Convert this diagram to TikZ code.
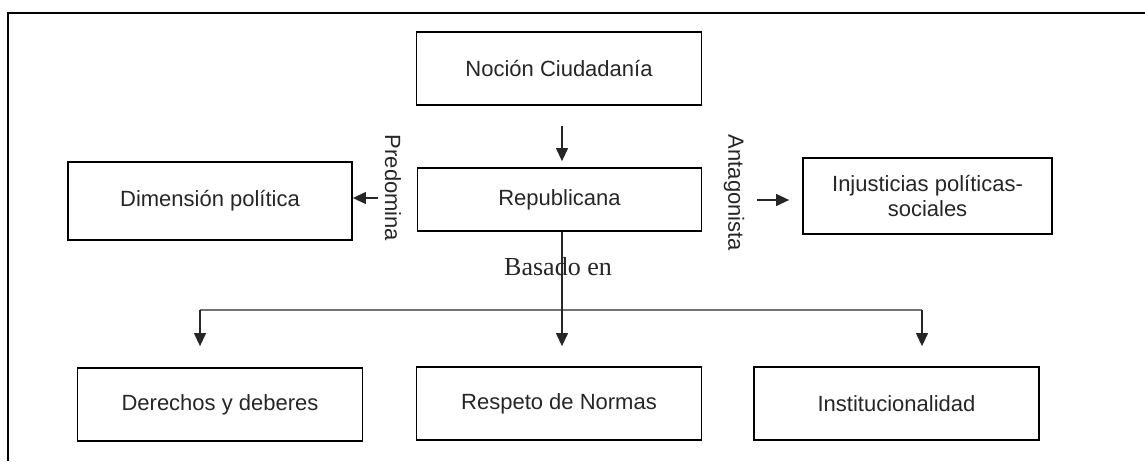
\documentclass[tikz,border=0pt]{standalone}
\usepackage{fontspec}
\setmainfont{Liberation Sans}
\newfontfamily\seriffont{Liberation Serif}
\usetikzlibrary{arrows.meta}
\begin{document}
\begin{tikzpicture}[x=1pt,y=-1pt,
  box/.style={draw=black,line width=1.8pt,inner sep=0pt,align=center,
    font=\fontsize{22}{25}\selectfont,text=black!85},
  conn/.style={line width=1.2pt,draw=black!85},
  arr/.style={conn,-{Triangle[length=13pt,width=12pt]}},
  bus/.style={line width=1.6pt,draw=black!55},
  lbl/.style={inner sep=0pt,font=\fontsize{22}{25}\selectfont,text=black!85}]
\useasboundingbox (0,0) rectangle (1145,461);
% outer frame (partially visible)
\draw[line width=2pt] (8,461) -- (8,13) -- (1145,13);

\node[box,minimum width=285pt,minimum height=73pt] (noc) at (559,68.5) {Noción Ciudadanía};
\node[box,minimum width=284pt,minimum height=63pt] (rep) at (559.5,199.5) {Republicana};
\node[box,minimum width=284pt,minimum height=78pt] (dim) at (210,201) {Dimensión política};
\node[box,minimum width=249pt,minimum height=76pt] (inj) at (927.5,196) {Injusticias políticas-\\sociales};
\node[box,minimum width=285pt,minimum height=73pt] (der) at (220,404.5) {Derechos y deberes};
\node[box,minimum width=285pt,minimum height=73pt] (res) at (559,403.5) {Respeto de Normas};
\node[box,minimum width=285pt,minimum height=73pt] (ins) at (896.5,403.5) {Institucionalidad};

\node[lbl,rotate=-90] (pre) at (393,188) {Predomina};
\node[lbl,rotate=-90] (ant) at (734,193) {Antagonista};
\node[inner sep=0pt,font=\seriffont\fontsize{26}{30}\selectfont,text=black!85] (bas) at (558,267) {Basado en};

\coordinate (xc) at (562,0);
\coordinate (lvl) at (0,198);
\coordinate (lvr) at (0,200);
\coordinate (busL) at (200,310);
\coordinate (busC) at (562,310);
\coordinate (busR) at (922,310);

\draw[arr,shorten <=20pt,shorten >=6pt] (noc.south -| xc) -- (rep.north -| xc);
\draw[arr,shorten <=39pt] (rep.west |- lvl) -- (dim.east |- lvl);
\draw[arr,shorten <=55pt,shorten >=13pt] (rep.east |- lvr) -- (inj.west |- lvr);

\draw[bus] (busL) -- (busR);
\draw[arr,shorten >=20pt] (rep.south -| xc) -- (res.north -| xc);
\draw[arr,shorten >=21pt] (busL) -- (busL |- der.north);
\draw[arr,shorten >=20pt] (busR) -- (busR |- ins.north);
\end{tikzpicture}
\end{document}
